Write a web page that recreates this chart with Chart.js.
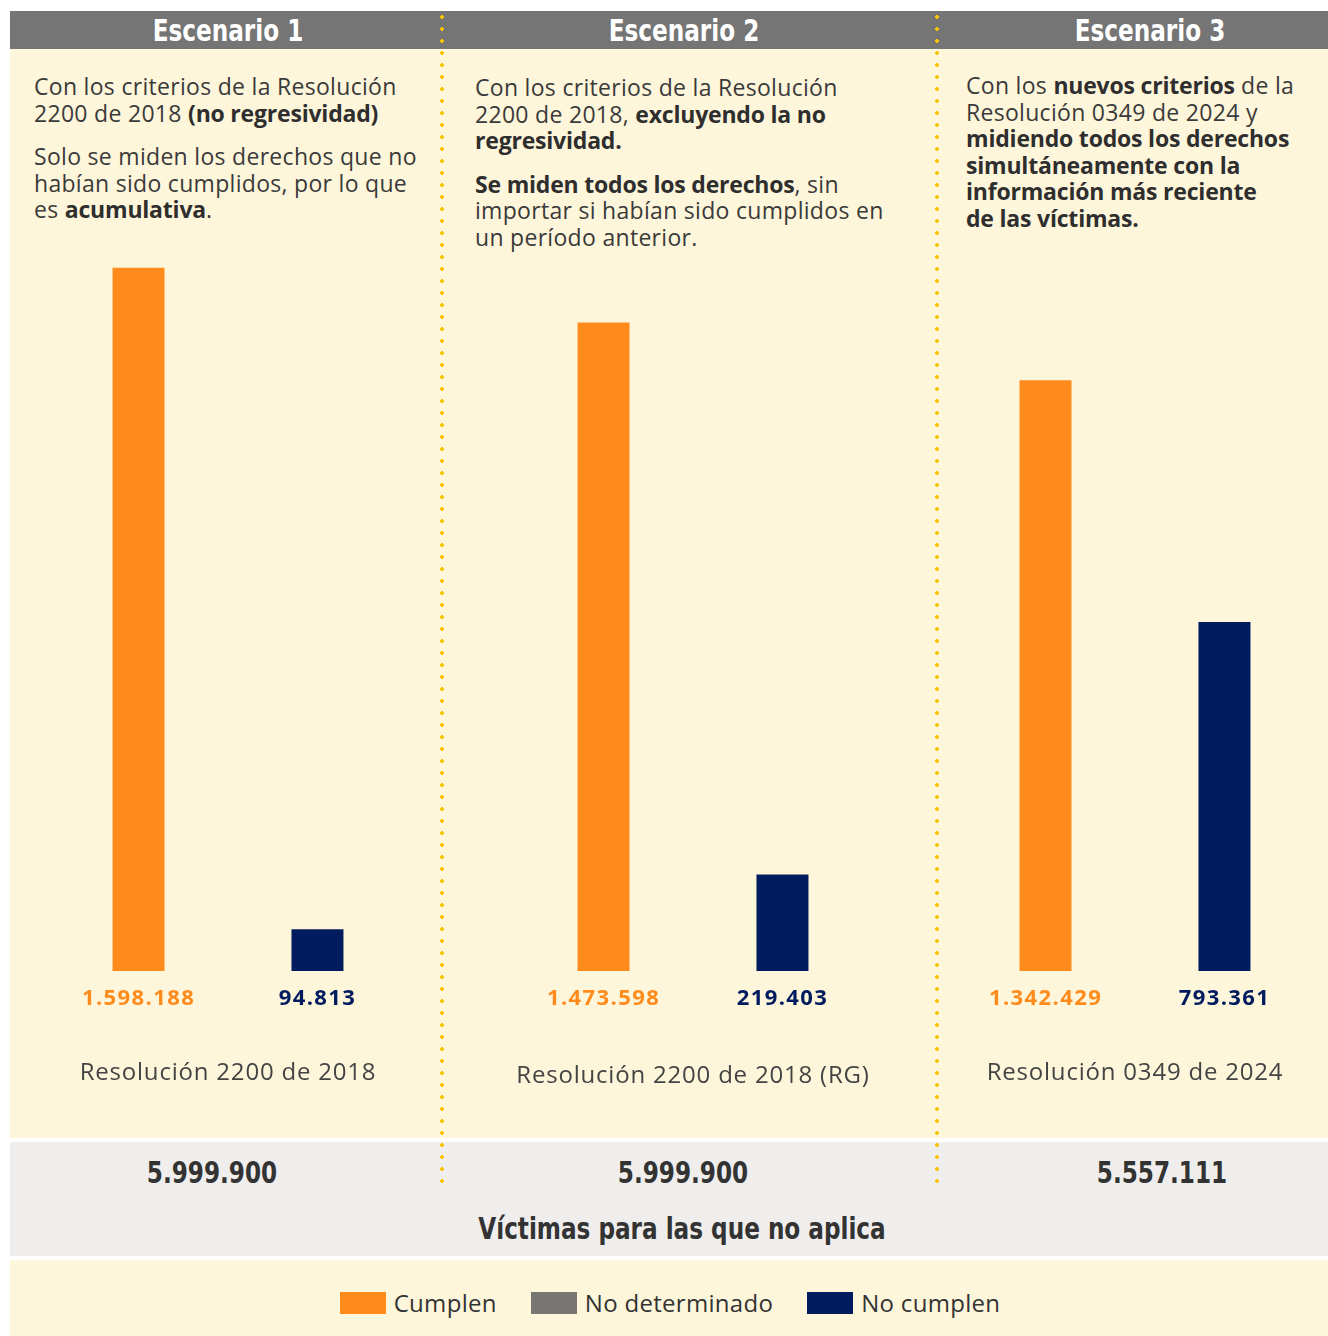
<!DOCTYPE html>
<html lang="es">
<head>
<meta charset="utf-8">
<script src="https://cdn.jsdelivr.net/npm/chart.js@4"></script>
<style>
body { margin:0; width:1328px; height:1336px; position:relative; background:#fff; overflow:hidden;
       font-family: "Open Sans", "Noto Sans", sans-serif; color:#333; }
.abs { position:absolute; }
.head { left:10px; top:11px; width:1318px; height:38px; background:#757575; }
.narrow { font-family:"Liberation Sans Narrow","DejaVu Sans Condensed",sans-serif; font-weight:bold;
          transform:scaleX(0.83); transform-origin:center; }
.title { top:11px; height:38px; line-height:38px; color:#fff; font-size:31px; text-align:center; width:300px; }
.cream { left:10px; top:49px; width:1318px; height:1089px; background:#fef6da; }
.grayband { left:10px; top:1142px; width:1318px; height:114px; background:#efeeec; }
.legband { left:10px; top:1260px; width:1318px; height:76px; background:#fef6da; }
.dots { width:4px; top:11px; height:1178px;
        background: radial-gradient(circle, #f6c500 1.6px, transparent 2.1px) 0 0/4px 12px repeat-y; }
.txt { font-size:23px; line-height:26.5px; color:#3a3a3a; letter-spacing:0.3px; }
.txt p { margin:0 0 17px 0; }
.txt b { font-weight:bold; color:#2e2e2e; letter-spacing:-0.2px; }
.total { top:1152px; height:40px; line-height:40px; width:300px; text-align:center; color:#333; font-size:31px; }
.legend { top:1286px; left:6px; width:1328px; display:flex; justify-content:center; font-size:24px; color:#333; letter-spacing:0.3px; }
.legend span { display:flex; align-items:center; margin:0 17px; }
.legend i { display:inline-block; width:46px; height:22px; margin-right:8px; }
canvas { position:absolute; }
</style>
</head>
<body>
<div class="abs cream"></div>
<div class="abs head"></div>
<div class="abs grayband"></div>
<div class="abs legband"></div>

<div class="abs title narrow" style="left:78px">Escenario 1</div>
<div class="abs title narrow" style="left:534px">Escenario 2</div>
<div class="abs title narrow" style="left:1000px">Escenario 3</div>

<div class="abs txt" style="left:34px; top:73px; width:405px">
  <p>Con los criterios de la Resolución<br>2200 de 2018 <b>(no regresividad)</b></p>
  <p>Solo se miden los derechos que no<br>habían sido cumplidos, por lo que<br>es <b>acumulativa</b>.</p>
</div>
<div class="abs txt" style="left:475px; top:74px; width:460px">
  <p>Con los criterios de la Resolución<br>2200 de 2018, <b>excluyendo la no<br>regresividad.</b></p>
  <p><b>Se miden todos los derechos</b>, sin<br>importar si habían sido cumplidos en<br>un período anterior.</p>
</div>
<div class="abs txt" style="left:966px; top:72px; width:362px">
  <p>Con los <b>nuevos criterios</b> de la<br>Resolución 0349 de 2024 y<br><b>midiendo todos los derechos<br>simultáneamente con la<br>información más reciente<br>de las víctimas.</b></p>
</div>

<div class="abs dots" style="left:440px"></div>
<div class="abs dots" style="left:935px"></div>

<canvas id="esc1" width="400" height="840"></canvas>
<canvas id="esc2" width="400" height="840"></canvas>
<canvas id="esc3" width="400" height="840"></canvas>

<div class="abs total narrow" id="tot1" style="left:62px"></div>
<div class="abs total narrow" id="tot2" style="left:533px"></div>
<div class="abs total narrow" id="tot3" style="left:1012px"></div>
<div class="abs total narrow" style="left:332px; top:1208px; width:700px">Víctimas para las que no aplica</div>

<div class="abs legend" id="legend"></div>

<script>
// Datos
const escenarios = ['Escenario 1', 'Escenario 2', 'Escenario 3'];
const resoluciones = ['Resolución 2200 de 2018', 'Resolución 2200 de 2018 (RG)', 'Resolución 0349 de 2024'];
const series = ['Cumplen', 'No determinado', 'No cumplen'];
const cumplen = [1598188, 1473598, 1342429];
const noDeterminado = [0, 0, 0];
const noCumplen = [94813, 219403, 793361];
const noAplica = [5999900, 5999900, 5557111];
const colores = ['#ff8b1c', '#777672', '#001c5f'];

const valores = [cumplen, noDeterminado, noCumplen];

// Posicion de cada grupo y de su etiqueta
const centros = [228, 693, 1135];
const etiquetaDy = [102, 105, 102];

const fmt = (n) => String(n).replace(/\B(?=(\d{3})+(?!\d))/g, '.');

// Etiquetas de valor y de resolucion bajo las barras
const valueLabels = {
    id: 'valueLabels',
    afterDatasetsDraw(chart, args, opts) {
        const ctx = chart.ctx;
        ctx.save();
        ctx.textAlign = 'center';
        ctx.textBaseline = 'middle';
        ctx.font = 'bold 22px "Open Sans", "Noto Sans", sans-serif';
        ctx.letterSpacing = '1.4px';
        chart.data.datasets.forEach((ds, k) => {
            chart.getDatasetMeta(k).data.forEach((bar, j) => {
                const v = ds.data[j];
                if (!v) return;
                ctx.fillStyle = ds.backgroundColor;
                ctx.fillText(fmt(v), bar.x, bar.base + 28);
            });
        });
        const x = chart.scales.x;
        ctx.font = '24px "Open Sans", "Noto Sans", sans-serif';
        ctx.letterSpacing = '0.8px';
        ctx.fillStyle = '#444';
        chart.data.labels.forEach((lab, j) => {
            ctx.fillText(lab, x.getPixelForValue(j), chart.chartArea.bottom + opts.dy);
        });
        ctx.restore();
    }
};

escenarios.forEach((esc, i) => {
    const canvas = document.getElementById('esc' + (i + 1));
    canvas.style.left = (centros[i] - 200) + 'px';
    canvas.style.top = '267px';
    new Chart(canvas, {
        type: 'bar',
        data: {
            labels: [resoluciones[i]],
            datasets: series.map((s, k) => ({
                label: s,
                data: [valores[k][i]],
                backgroundColor: colores[k],
                categoryPercentage: 0.671,
                barPercentage: 0.581
            }))
        },
        options: {
            responsive: false,
            animation: false,
            layout: { padding: { top: 0, left: 0, right: 0, bottom: 136 } },
            plugins: {
                legend: { display: false },
                tooltip: { enabled: false },
                valueLabels: { dy: etiquetaDy[i] }
            },
            scales: {
                x: { display: false },
                y: { display: false, min: 0, max: 1600000 }
            }
        },
        plugins: [valueLabels]
    });
    document.getElementById('tot' + (i + 1)).textContent = fmt(noAplica[i]);
});

// Leyenda
document.getElementById('legend').innerHTML = series
    .map((s, k) => `<span><i style="background:${colores[k]}"></i>${s}</span>`)
    .join('');
</script>
</body>
</html>
